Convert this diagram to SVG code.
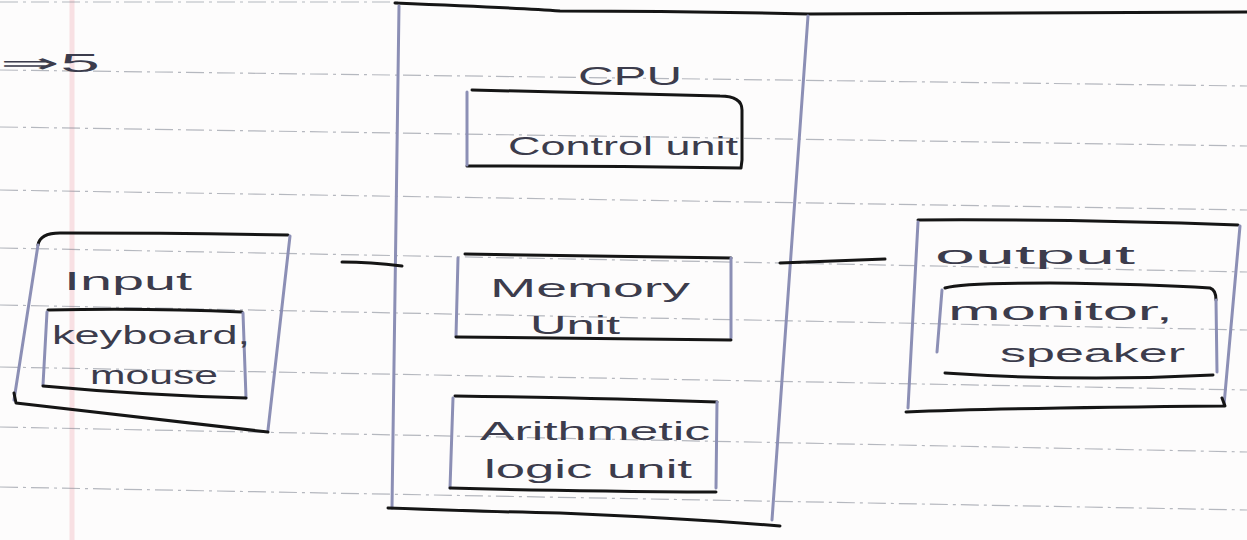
<svg xmlns="http://www.w3.org/2000/svg" width="1247" height="540" viewBox="0 0 1247 540">
<style>
.rule{stroke:#7a7f8c;stroke-width:1.2;stroke-dasharray:18 5 3 5;opacity:.55;fill:none}
.ink{stroke:#151515;stroke-width:3;fill:none;stroke-linecap:round;stroke-linejoin:round}
.pen{stroke:#8c8fb5;stroke-width:3;fill:none;stroke-linecap:round}
.t{font-family:"Liberation Sans",Arial,sans-serif;fill:#3c3c4c;font-size:26px}
</style>
<rect width="1247" height="540" fill="#fdfcfc"/>
<g id="paper">
<line x1="72" y1="0" x2="72" y2="540" stroke="#f2b8bf" stroke-width="5" opacity=".4"/>
<path class="rule" d="M0 70 L1247 86"/>
<path class="rule" d="M0 127 L1247 146"/>
<path class="rule" d="M0 190 L1247 210"/>
<path class="rule" d="M0 248 L1247 272"/>
<path class="rule" d="M0 305 L1247 330"/>
<path class="rule" d="M0 367 L1247 390"/>
<path class="rule" d="M0 427 L1247 452"/>
<path class="rule" d="M0 487 L1247 510"/>
<path class="rule" d="M0 2 L400 2"/>
</g>
<g id="label5">
<text class="t" x="0" y="72" font-size="34" textLength="100" lengthAdjust="spacingAndGlyphs">⇒5</text>
</g>
<g id="cpu">
<path class="ink" d="M395 3 Q520 8 560 11 Q680 11 808 14 L1247 12"/>
<path class="pen" d="M399 6 L392 508"/>
<path class="pen" d="M808 16 L772 520"/>
<path class="ink" d="M388 508 Q500 512 560 513 Q680 518 780 526"/>
<text class="t" x="578" y="85" font-size="40" textLength="104" lengthAdjust="spacingAndGlyphs" fill="#4a4a58">CPU</text>
</g>
<g id="control">
<path class="ink" d="M472 90 Q600 93 720 96 Q742 96 742 110 L742 160 L741 168 Q600 166 467 166"/>
<path class="pen" d="M467 92 L467 165"/>
<text class="t" x="508" y="155" font-size="28" textLength="230" lengthAdjust="spacingAndGlyphs">Control unit</text>
</g>
<g id="memory">
<path class="ink" d="M465 254 Q600 256 731 258"/>
<path class="pen" d="M458 258 L456 336"/>
<path class="pen" d="M731 258 L731 338"/>
<path class="ink" d="M456 337 Q600 339 731 340"/>
<text class="t" x="490" y="297" font-size="28" textLength="200" lengthAdjust="spacingAndGlyphs">Memory</text>
<text class="t" x="530" y="334" font-size="28" textLength="90" lengthAdjust="spacingAndGlyphs">Unit</text>
</g>
<g id="alu">
<path class="ink" d="M455 396 Q600 398 717 402"/>
<path class="pen" d="M453 398 L450 488"/>
<path class="pen" d="M717 402 L716 488"/>
<path class="ink" d="M450 488 Q560 491 716 492"/>
<text class="t" x="480" y="440" font-size="26" textLength="230" lengthAdjust="spacingAndGlyphs">Arithmetic</text>
<text class="t" x="484" y="478" font-size="26" textLength="208" lengthAdjust="spacingAndGlyphs">logic unit</text>
</g>
<g id="input">
<path class="ink" d="M38 245 Q40 233 60 233 Q180 233 288 235"/>
<path class="pen" d="M38 245 L14 400"/>
<path class="pen" d="M290 236 L268 430"/>
<path class="ink" d="M14 393 L16 403 Q120 415 268 432"/>
<path class="ink" d="M48 310 Q150 308 242 312"/>
<path class="pen" d="M47 312 L43 385"/>
<path class="pen" d="M243 313 L246 398"/>
<path class="ink" d="M43 386 Q140 395 246 398"/>
<text class="t" x="64" y="290" font-size="32" textLength="128" lengthAdjust="spacingAndGlyphs">Input</text>
<text class="t" x="52" y="344" font-size="24" textLength="198" lengthAdjust="spacingAndGlyphs">keyboard,</text>
<text class="t" x="90" y="384" font-size="26" textLength="128" lengthAdjust="spacingAndGlyphs">mouse</text>
</g>
<g id="output">
<path class="ink" d="M918 220 Q1070 219 1238 225"/>
<path class="pen" d="M918 222 L908 408"/>
<path class="pen" d="M1240 226 L1224 405"/>
<path class="ink" d="M906 412 Q1000 408 1225 406 L1222 398"/>
<path class="ink" d="M945 288 Q960 283 1050 283 Q1150 284 1210 288 Q1216 290 1216 300"/>
<path class="pen" d="M942 290 L937 352"/>
<path class="pen" d="M1216 300 L1217 372"/>
<path class="ink" d="M945 373 Q1080 382 1213 375"/>
<text class="t" x="935" y="264" font-size="30" textLength="200" lengthAdjust="spacingAndGlyphs">output</text>
<text class="t" x="948" y="320" font-size="26" textLength="225" lengthAdjust="spacingAndGlyphs">monitor,</text>
<text class="t" x="1000" y="362" font-size="26" textLength="185" lengthAdjust="spacingAndGlyphs">speaker</text>
</g>
<g id="connectors">
<path class="ink" d="M342 262 Q370 262 402 266"/>
<path class="ink" d="M780 263 Q830 261 885 259"/>
</g>
</svg>
